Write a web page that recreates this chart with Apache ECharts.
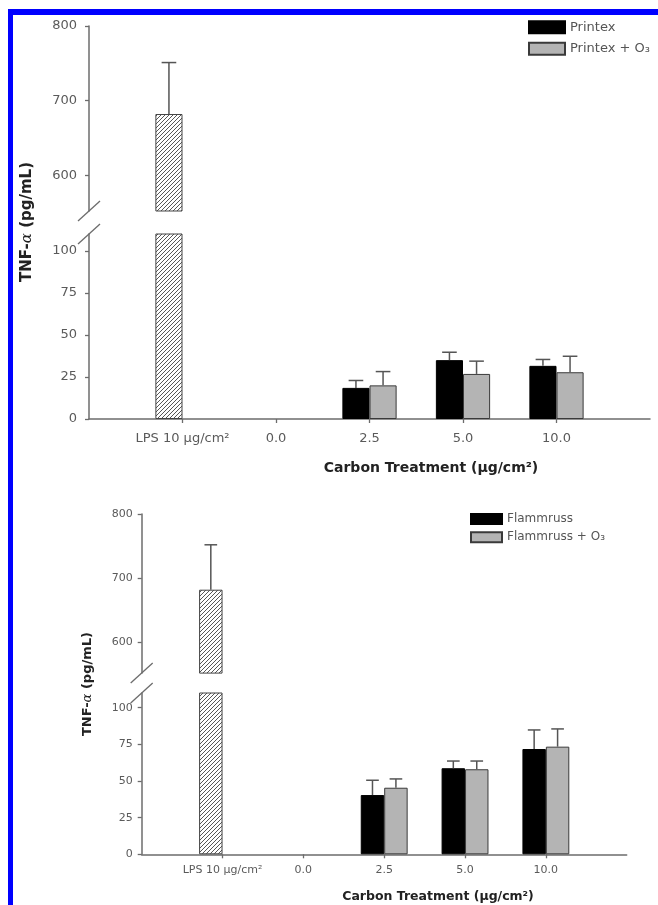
<!DOCTYPE html>
<html><head><meta charset="utf-8">
<script src="https://cdn.jsdelivr.net/npm/echarts@6/dist/echarts.min.js"></script>
<style>html,body{margin:0;padding:0;background:#fff}#c{width:658px;height:905px}</style>
</head><body><div id="c"></div>
<script>
// ---------- data ----------
const categories = ['', 'LPS 10 μg/cm²', '0.0', '2.5', '5.0', '10.0', ''];
const lpsIndex = 1;
const doseIndex = [3, 4, 5];            // category positions of 2.5, 5.0, 10.0
const upperTicks = [600, 700, 800];
const lowerTicks = [0, 25, 50, 75, 100];
const lowerMax = 110, upperMin = 552, upperMax = 800;

// Panel A: Printex
const lpsMeanA = 682, lpsSdA = 69;
const printex = [18.5, 35.0, 31.6];
const printexSd = [4.4, 4.7, 3.8];
const printexO3 = [20.0, 26.8, 27.8];
const printexO3Sd = [8.2, 7.6, 9.5];

// Panel B: Flammruss
const lpsMeanB = 682, lpsSdB = 70;
const flammruss = [40.4, 58.7, 71.8];
const flammrussSd = [10.1, 4.9, 13.0];
const flammrussO3 = [45.4, 58.0, 73.4];
const flammrussO3Sd = [6.0, 5.6, 12.1];

// ---------- styles ----------
const FONT = "'DejaVu Sans', sans-serif";
const AXIS_COLOR = '#6c6c6c';
const LABEL_COLOR = '#5a5a5a';
const BAR_FRAC = 0.29;

function hatchCanvas() {
  const s = 4;
  const c = document.createElement('canvas'); c.width = s; c.height = s;
  const g = c.getContext('2d');
  g.fillStyle = '#fff'; g.fillRect(0, 0, s, s);
  g.strokeStyle = '#444'; g.lineWidth = 0.9;
  g.beginPath();
  g.moveTo(-1, s + 1); g.lineTo(s + 1, -1);
  g.moveTo(-1, 1); g.lineTo(1, -1);
  g.moveTo(s - 1, s + 1); g.lineTo(s + 1, s - 1);
  g.stroke();
  return c;
}
const hatchStyle = { color: { image: hatchCanvas(), repeat: 'repeat' }, borderColor: '#444', borderWidth: 1 };
const blackStyle = { color: '#000', borderColor: '#000', borderWidth: 1 };
const greyStyle = { color: '#b4b4b4', borderColor: '#3a3a3a', borderWidth: 1 };

function errItem(params, api) {
  const ci = api.value(0), mean = api.value(1), top = api.value(2), side = api.value(3);
  const b = api.coord([ci, mean]);
  const t = api.coord([ci, top]);
  const bw = api.size([1, 0])[0] * BAR_FRAC;
  const cx = b[0] + side * bw / 2;
  const cap = bw * 0.27;
  const st = { stroke: '#555', lineWidth: 1.5 };
  return { type: 'group', children: [
    { type: 'line', shape: { x1: cx, y1: b[1], x2: cx, y2: t[1] }, style: st },
    { type: 'line', shape: { x1: cx - cap, y1: t[1], x2: cx + cap, y2: t[1] }, style: st }
  ]};
}
function breakItem(params, api) {
  const p = api.coord([api.value(0), api.value(1)]);
  return { type: 'line', shape: { x1: p[0] - 11, y1: p[1] + 10, x2: p[0] + 11, y2: p[1] - 10 },
           style: { stroke: AXIS_COLOR, lineWidth: 1.3 } };
}

const panels = [
  { grid: { left: 89, width: 561, upTop: 26, upH: 185, loTop: 234, loH: 185 },
    fs: 13, margin: 13, lpsMean: lpsMeanA, lpsSd: lpsSdA,
    blackName: 'Printex', black: printex, blackSd: printexSd,
    greyName: 'Printex + O₃', grey: printexO3, greySd: printexO3Sd },
  { grid: { left: 141.7, width: 485, upTop: 514, upH: 159.1, loTop: 693, loH: 161.3 },
    fs: 11, margin: 10, lpsMean: lpsMeanB, lpsSd: lpsSdB,
    blackName: 'Flammruss', black: flammruss, blackSd: flammrussSd,
    greyName: 'Flammruss + O₃', grey: flammrussO3, greySd: flammrussO3Sd }
];

const grids = [], xAxes = [], yAxes = [], series = [];
panels.forEach((P, k) => {
  const g = P.grid;
  grids.push({ left: g.left, width: g.width, top: g.upTop, height: g.upH, outerBoundsMode: 'none' });
  grids.push({ left: g.left, width: g.width, top: g.loTop, height: g.loH, outerBoundsMode: 'none' });
  const iu = 2 * k, il = 2 * k + 1;
  xAxes.push({ gridIndex: iu, type: 'category', data: categories, boundaryGap: false, show: false });
  xAxes.push({ gridIndex: il, type: 'category', data: categories, boundaryGap: false,
    axisLine: { lineStyle: { color: AXIS_COLOR, width: 1.5 } },
    axisTick: { show: true, length: 4, interval: (i) => i >= 1 && i <= 5, lineStyle: { color: AXIS_COLOR, width: 1.3 } },
    axisLabel: { interval: 0, margin: P.margin, fontFamily: FONT, fontSize: P.fs, color: LABEL_COLOR } });
  const yCommon = {
    type: 'value', splitLine: { show: false },
    axisLine: { show: true, lineStyle: { color: AXIS_COLOR, width: 1.5 } },
  };
  yAxes.push(Object.assign({}, yCommon, { gridIndex: iu, min: upperMin, max: upperMax,
    axisTick: { show: true, length: 4, customValues: upperTicks, lineStyle: { color: AXIS_COLOR, width: 1.3 } },
    axisLabel: { customValues: upperTicks, margin: P.margin - 1, fontFamily: FONT, fontSize: P.fs, color: LABEL_COLOR } }));
  yAxes.push(Object.assign({}, yCommon, { gridIndex: il, min: 0, max: lowerMax,
    axisTick: { show: true, length: 4, customValues: lowerTicks, lineStyle: { color: AXIS_COLOR, width: 1.3 } },
    axisLabel: { customValues: lowerTicks, margin: P.margin - 1, fontFamily: FONT, fontSize: P.fs, color: LABEL_COLOR } }));

  const lpsData = categories.map((c, i) => i === lpsIndex ? P.lpsMean : null);
  const fill = (vals) => categories.map((c, i) => { const j = doseIndex.indexOf(i); return j >= 0 ? vals[j] : null; });
  const barBase = { type: 'bar', barWidth: (BAR_FRAC * 100) + '%', barGap: '0%', silent: true, animation: false };

  series.push(Object.assign({}, barBase, { name: 'LPS', xAxisIndex: iu, yAxisIndex: iu, stack: 'L' + iu, data: lpsData, itemStyle: hatchStyle }));
  series.push(Object.assign({}, barBase, { name: 'pad', xAxisIndex: iu, yAxisIndex: iu, stack: 'R' + iu, data: categories.map(() => null) }));
  series.push(Object.assign({}, barBase, { name: 'LPS', xAxisIndex: il, yAxisIndex: il, stack: 'L' + il, data: lpsData, itemStyle: hatchStyle }));
  series.push(Object.assign({}, barBase, { name: P.blackName, xAxisIndex: il, yAxisIndex: il, stack: 'L' + il, data: fill(P.black), itemStyle: blackStyle }));
  series.push(Object.assign({}, barBase, { name: P.greyName, xAxisIndex: il, yAxisIndex: il, stack: 'R' + il, data: fill(P.grey), itemStyle: greyStyle }));

  const errLower = [];
  doseIndex.forEach((ci, j) => {
    errLower.push([ci, P.black[j], P.black[j] + P.blackSd[j], -1]);
    errLower.push([ci, P.grey[j], P.grey[j] + P.greySd[j], 1]);
  });
  series.push({ type: 'custom', xAxisIndex: il, yAxisIndex: il, renderItem: errItem, data: errLower, silent: true, animation: false, z: 3 });
  series.push({ type: 'custom', xAxisIndex: iu, yAxisIndex: iu, renderItem: errItem,
    data: [[lpsIndex, P.lpsMean, P.lpsMean + P.lpsSd, -1]], silent: true, animation: false, z: 3 });
  series.push({ type: 'custom', xAxisIndex: iu, yAxisIndex: iu, renderItem: breakItem, data: [[0, upperMin]], silent: true, animation: false, clip: false, z: 5 });
  series.push({ type: 'custom', xAxisIndex: il, yAxisIndex: il, renderItem: breakItem, data: [[0, lowerMax]], silent: true, animation: false, clip: false, z: 5 });
});

function legendItem(name, left, top, w, h, fs) {
  return { data: [name], left: left, top: top, orient: 'vertical', padding: 0, itemWidth: w, itemHeight: h,
    selectedMode: false, icon: 'rect', textStyle: { fontFamily: FONT, fontSize: fs, color: '#555' } };
}

const option = {
  backgroundColor: '#fff',
  animation: false,
  grid: grids, xAxis: xAxes, yAxis: yAxes, series: series,
  legend: [
    legendItem('Printex', 528, 20.2, 36, 12, 13),
    legendItem('Printex + O₃', 528, 41.8, 36, 12, 13),
    legendItem('Flammruss', 470, 513, 31, 10, 12),
    legendItem('Flammruss + O₃', 470, 531.3, 31, 10, 12)
  ],
  graphic: [
    { type: 'rect', shape: { x: 8, y: 9, width: 650, height: 6 }, style: { fill: '#0000ff' }, silent: true },
    { type: 'rect', shape: { x: 8, y: 9, width: 5, height: 896 }, style: { fill: '#0000ff' }, silent: true },
    { type: 'text', x: 27, y: 222, rotation: Math.PI / 2, silent: true,
      style: { text: 'TNF-{a|α} (pg/mL)', align: 'center', verticalAlign: 'middle', fill: '#222',
        font: "bold 15px 'DejaVu Sans', sans-serif",
        rich: { a: { fontStyle: 'italic', fontWeight: 'normal', fontFamily: "'DejaVu Serif', serif", fontSize: 15, fill: '#222' } } } },
    { type: 'text', x: 88, y: 684, rotation: Math.PI / 2, silent: true,
      style: { text: 'TNF-{a|α} (pg/mL)', align: 'center', verticalAlign: 'middle', fill: '#222',
        font: "bold 13px 'DejaVu Sans', sans-serif",
        rich: { a: { fontStyle: 'italic', fontWeight: 'normal', fontFamily: "'DejaVu Serif', serif", fontSize: 13, fill: '#222' } } } },
    { type: 'text', x: 431, y: 468, silent: true,
      style: { text: 'Carbon Treatment (μg/cm²)', align: 'center', verticalAlign: 'middle', fill: '#222',
        font: "bold 14px 'DejaVu Sans', sans-serif" } },
    { type: 'text', x: 438, y: 896.5, silent: true,
      style: { text: 'Carbon Treatment (μg/cm²)', align: 'center', verticalAlign: 'middle', fill: '#222',
        font: "bold 12.5px 'DejaVu Sans', sans-serif" } }
  ]
};

const chart = echarts.init(document.getElementById('c'), null, { renderer: 'canvas' });
chart.setOption(option);
</script>
</body></html>
